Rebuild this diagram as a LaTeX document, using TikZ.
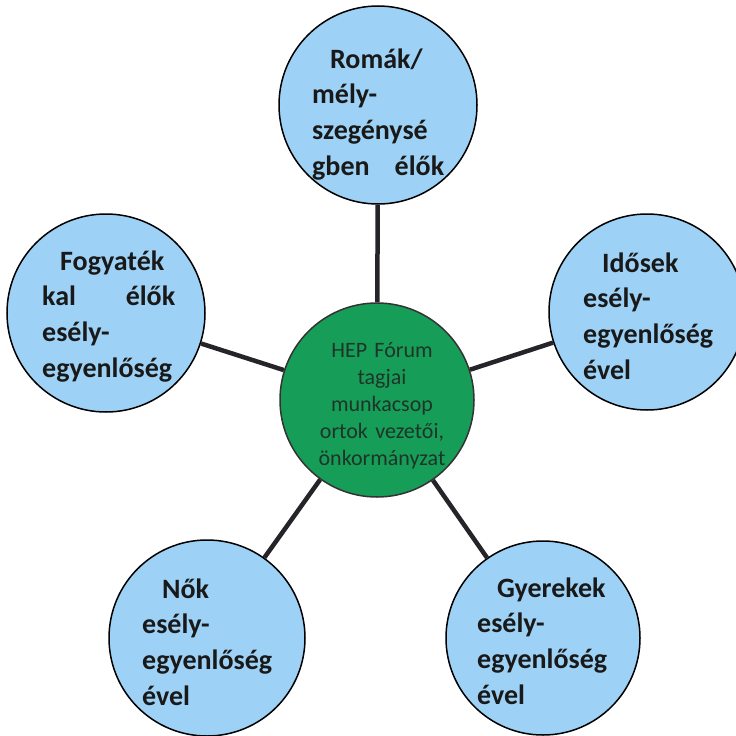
\documentclass[tikz,border=0pt]{standalone}
\usepackage{fontspec}
\setmainfont{Carlito}
\definecolor{bubbleblue}{RGB}{157,210,246}
\definecolor{hubgreen}{RGB}{22,158,88}
\definecolor{hubtext}{RGB}{30,52,40}
\definecolor{linkdark}{RGB}{38,36,40}
\tikzset{
  bubble/.style={circle, draw=black, line width=1.5pt, fill=bubbleblue, inner sep=0pt},
  hub/.style={circle, draw=black!80, line width=1.5pt, fill=hubgreen, inner sep=0pt, minimum size=194pt},
  bubbletext/.style={anchor=north west, inner sep=0pt, align=left, text=black!90,
     font=\fontsize{28}{35.7}\selectfont\bfseries},
  hubtext/.style={anchor=north, inner sep=0pt, align=center, text width=130pt, text=hubtext,
     font=\fontsize{22}{27}\selectfont},
  link/.style={draw=linkdark, line width=4.5pt}
}
\begin{document}
\begin{tikzpicture}[x=1pt,y=-1pt]
\useasboundingbox (0,0) rectangle (736,736);
\clip (0,0) rectangle (736,736);
\fill[white] (0,0) rectangle (736,736);
% circles
\node[hub] (hub) at (377,400) {};
\node[bubble, minimum size=198pt] (roma) at (378,105) {};
\node[bubble, minimum size=198pt] (fogy) at (106,313) {};
\node[bubble, minimum size=196pt] (idos) at (647,312) {};
\node[bubble, minimum size=196pt] (nok) at (207,638) {};
\node[bubble, minimum size=194pt] (gyer) at (543,638) {};
% connectors
\draw[link] (hub) -- (roma);
\draw[link] (hub) -- (fogy);
\draw[link] (hub) -- (idos);
\draw[link] (hub) -- (nok);
\draw[link] (hub) -- (gyer);
% texts
\node[hubtext] (hubt) at (382,338) {\strut HEP Fórum\\ tagjai\\ munkacsop\\ ortok vezetői,\\ önkormányzat};
\node[bubbletext, text width=132pt] (romat) at (312,43)
  {\noindent\strut\hspace*{18pt}Romák/\\ mély-\\ szegénysé\\ gben\hfill élők};
\node[bubbletext, text width=133pt] (fogyt) at (42,245)
  {\noindent\strut\hspace*{18pt}Fogyaték\\ kal\hfill élők\\ esély-\\ egyenlőség};
\node[bubbletext, text width=132pt] (idost) at (583,247)
  {\noindent\strut\hspace*{19pt}Idősek\\ esély-\\ egyenlőség\\ ével};
\node[bubbletext, text width=132pt] (nokt) at (142,573)
  {\noindent\strut\hspace*{20pt}Nők\\ esély-\\ egyenlőség\\ ével};
\node[bubbletext, text width=132pt] (gyert) at (477,572)
  {\noindent\strut\hspace*{20pt}Gyerekek\\ esély-\\ egyenlőség\\ ével};
\end{tikzpicture}
\end{document}
